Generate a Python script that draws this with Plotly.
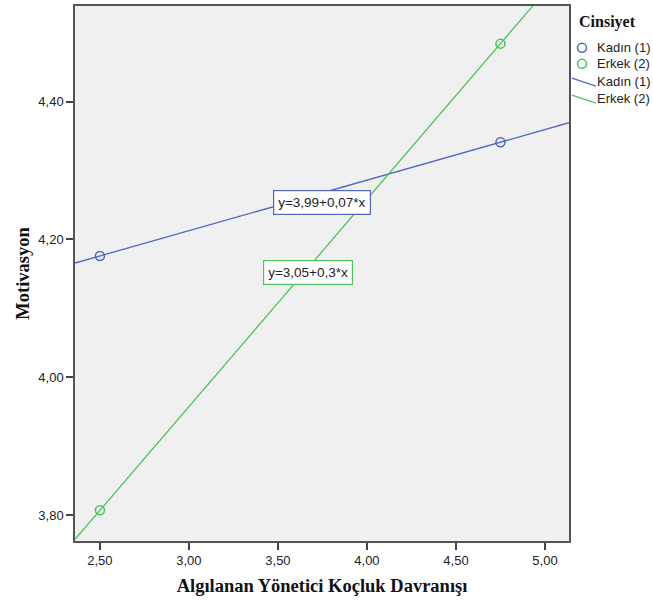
import numpy as np
import plotly.graph_objects as go

# ---- data ----
x_points = [2.50, 4.75]
kadin_y = [4.176, 4.341]
erkek_y = [3.807, 4.484]
groups = ["Kadın (1)", "Erkek (2)"]
eq_labels = ["y=3,99+0,07*x", "y=3,05+0,3*x"]
x_ticks = [2.5, 3.0, 3.5, 4.0, 4.5, 5.0]
y_ticks = [3.8, 4.0, 4.2, 4.4]
x_range = [2.36, 5.135]
y_range = [3.7625, 4.5386]

blue = "#5068bd"
green = "#4cc35e"
colors = [blue, green]

W, H = 653, 601
L, R, T, B = 75, 84, 4, 60
pw, ph = W - L - R, H - T - B

def px(x):
    return (x - L) / pw

def py(y):
    return (H - B - y) / ph

fig = go.Figure()
xs_line = np.array(x_range)
for name, ys, col in zip(groups, [kadin_y, erkek_y], colors):
    slope, icpt = np.polyfit(x_points, ys, 1)
    fig.add_trace(go.Scatter(x=xs_line, y=icpt + slope * xs_line, mode="lines",
                             line=dict(color=col, width=1.3), showlegend=False,
                             hoverinfo="skip"))
    fig.add_trace(go.Scatter(x=x_points, y=ys, mode="markers",
                             marker=dict(symbol="circle-open", size=9, color=col,
                                         line=dict(width=1.5, color=col)),
                             showlegend=False, name=name))

# equation labels
eq_pos = [(3.748, 4.254), (3.669, 4.152)]
for (ex, ey), lab, col in zip(eq_pos, eq_labels, colors):
    fig.add_annotation(x=ex, y=ey, xref="x", yref="y", text=lab, showarrow=False,
                       font=dict(family="Liberation Sans, Arial", size=13.5, color="#222"),
                       bgcolor="white", bordercolor=col, borderwidth=1.2, borderpad=4)

# manual legend
fig.add_annotation(x=px(577), y=py(20), xref="paper", yref="paper", text="<b>Cinsiyet</b>",
                   showarrow=False, xanchor="left", yanchor="middle",
                   font=dict(family="Liberation Serif, Times New Roman", size=16, color="#111"))
shapes = []
for i, (g, col) in enumerate(zip(groups, colors)):
    cy = [46, 62][i]
    shapes.append(dict(type="circle", xref="paper", yref="paper",
                       x0=px(577.5), x1=px(586.5), y0=py(cy + 4.5), y1=py(cy - 4.5),
                       line=dict(color=col, width=1.5)))
    fig.add_annotation(x=px(595), y=py(cy), xref="paper", yref="paper", text=g,
                       showarrow=False, xanchor="left", yanchor="middle",
                       font=dict(family="Liberation Sans, Arial", size=13, color="#222"))
for i, (g, col) in enumerate(zip(groups, colors)):
    cy = [80, 97][i]
    shapes.append(dict(type="line", xref="paper", yref="paper",
                       x0=px(572), y0=py(cy - 3.5), x1=px(596), y1=py(cy + 4.5),
                       line=dict(color=col, width=1.3)))
    fig.add_annotation(x=px(595), y=py(cy), xref="paper", yref="paper", text=g,
                       showarrow=False, xanchor="left", yanchor="middle",
                       font=dict(family="Liberation Sans, Arial", size=13, color="#222"))

axis_common = dict(showline=True, linecolor="#555", linewidth=1.5, mirror=True,
                   ticks="outside", ticklen=7, tickcolor="#444", tickwidth=1.5,
                   showgrid=False, zeroline=False, tickformat=".2f",
                   tickfont=dict(family="Liberation Sans, Arial", size=13, color="#222"))

fig.update_layout(
    width=W, height=H,
    margin=dict(l=L, r=R, t=T, b=B),
    paper_bgcolor="white", plot_bgcolor="#f0f0f0",
    separators=",.",
    showlegend=False,
    shapes=shapes,
    xaxis=dict(range=x_range, tickvals=x_ticks, **axis_common,
               title=dict(text="<b>Algılanan Yönetici Koçluk Davranışı</b>", standoff=12,
                          font=dict(family="Liberation Serif, Times New Roman", size=18.5, color="#111"))),
    yaxis=dict(range=y_range, tickvals=y_ticks, **axis_common,
               title=dict(text="<b>Motivasyon</b>", standoff=4,
                          font=dict(family="Liberation Serif, Times New Roman", size=18.5, color="#111"))),
)

fig.write_html("out.html", config={"displayModeBar": False},
               post_script="document.body.style.margin='0';document.body.style.overflow='hidden';")
